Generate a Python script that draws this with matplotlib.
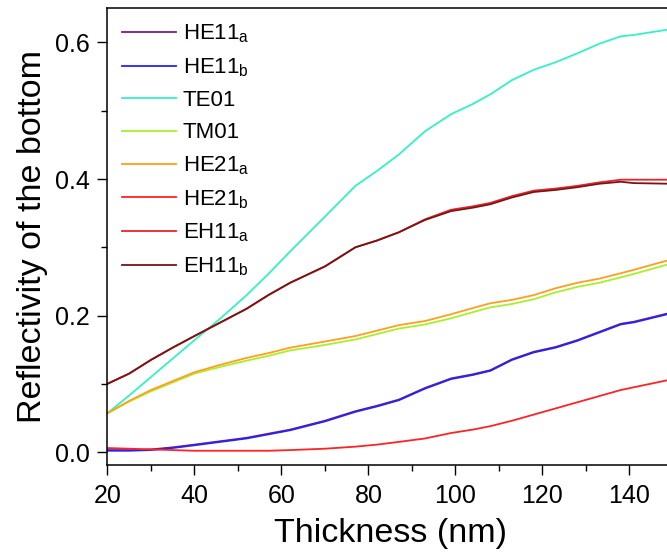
import matplotlib as mpl

mpl.use('Agg')
import matplotlib.pyplot as plt
from matplotlib.ticker import MultipleLocator

plt.rcParams['font.family'] = ['Liberation Sans', 'DejaVu Sans']
plt.rcParams['mathtext.fontset'] = 'custom'
plt.rcParams['mathtext.rm'] = 'Liberation Sans'

# thickness grid (nm) and reflectivity of each mode
thickness = [20, 25, 30, 35, 40, 46, 52, 57, 62, 70, 77, 82, 87, 93, 99,
             104, 108, 113, 118, 123, 128, 133, 138, 141, 150]

he11a = [0.003, 0.003, 0.004, 0.007, 0.011, 0.016, 0.021, 0.027, 0.033, 0.046,
         0.060, 0.068, 0.077, 0.094, 0.108, 0.114, 0.120, 0.136, 0.147, 0.154,
         0.164, 0.176, 0.188, 0.191, 0.205]
he11b = [0.002, 0.002, 0.003, 0.006, 0.010, 0.015, 0.020, 0.026, 0.032, 0.045,
         0.059, 0.067, 0.076, 0.093, 0.107, 0.113, 0.119, 0.135, 0.146, 0.153,
         0.163, 0.175, 0.187, 0.190, 0.204]
te01 = [0.057, 0.083, 0.110, 0.137, 0.164, 0.196, 0.230, 0.261, 0.294, 0.345,
        0.390, 0.412, 0.436, 0.470, 0.495, 0.510, 0.524, 0.545, 0.560, 0.571,
        0.584, 0.598, 0.609, 0.611, 0.620]
tm01 = [0.057, 0.074, 0.089, 0.102, 0.115, 0.125, 0.134, 0.141, 0.149, 0.157,
        0.165, 0.173, 0.181, 0.187, 0.196, 0.205, 0.212, 0.217, 0.224, 0.234,
        0.242, 0.248, 0.256, 0.261, 0.277]
he21a = [0.057, 0.075, 0.091, 0.104, 0.117, 0.128, 0.138, 0.145, 0.153, 0.162,
         0.170, 0.178, 0.186, 0.192, 0.202, 0.211, 0.218, 0.223, 0.230, 0.240,
         0.248, 0.254, 0.262, 0.267, 0.283]
he21b = [0.006, 0.005, 0.004, 0.003, 0.002, 0.002, 0.002, 0.002, 0.003, 0.005,
         0.008, 0.011, 0.015, 0.020, 0.028, 0.033, 0.038, 0.046, 0.055, 0.064,
         0.073, 0.082, 0.091, 0.095, 0.107]
eh11a = [0.100, 0.115, 0.135, 0.153, 0.170, 0.190, 0.210, 0.230, 0.248, 0.272,
         0.300, 0.310, 0.322, 0.341, 0.355, 0.360, 0.365, 0.375, 0.383, 0.386,
         0.390, 0.395, 0.399, 0.399, 0.399]
eh11b = [0.100, 0.115, 0.135, 0.153, 0.170, 0.190, 0.210, 0.230, 0.248, 0.272,
         0.300, 0.310, 0.322, 0.340, 0.353, 0.358, 0.363, 0.373, 0.381, 0.384,
         0.388, 0.393, 0.396, 0.394, 0.393]

series = [
    (he11a, r'HE11$_\mathregular{a}$', '#7f1a80'),
    (he11b, r'HE11$_\mathregular{b}$', '#2323f5'),
    (te01, 'TE01', '#33f2c4'),
    (tm01, 'TM01', '#a8f02a'),
    (he21a, r'HE21$_\mathregular{a}$', '#ff9f1f'),
    (he21b, r'HE21$_\mathregular{b}$', '#ff2424'),
    (eh11a, r'EH11$_\mathregular{a}$', '#e8232b'),
    (eh11b, r'EH11$_\mathregular{b}$', '#761515'),
]

fig = plt.figure(figsize=(6.67, 5.55), dpi=100)
ax = fig.add_axes([0.161, 0.162, 0.848, 0.823])

for vals, lab, col in series:
    ax.plot(thickness, vals, color=col, lw=1.3, label=lab)

ax.set_xlim(20, 150)
ax.set_ylim(-0.019, 0.65)
ax.xaxis.set_major_locator(MultipleLocator(20))
ax.xaxis.set_minor_locator(MultipleLocator(10))
ax.yaxis.set_major_locator(MultipleLocator(0.2))
ax.yaxis.set_minor_locator(MultipleLocator(0.1))
ax.yaxis.set_major_formatter(mpl.ticker.FormatStrFormatter('%.1f'))
ax.tick_params(which='major', direction='out', length=7.5, width=1, labelsize=18)
ax.tick_params(which='minor', direction='out', length=4.5, width=1)
ax.tick_params(axis='x', which='major', pad=6)
ax.tick_params(axis='y', which='major', pad=5)
for sp in ax.spines.values():
    sp.set_linewidth(1.1)

ax.set_xlabel('Thickness (nm)', fontsize=24.5, labelpad=7)
ax.set_ylabel('Reflectivity of the bottom', fontsize=24.5, labelpad=5)

ax.legend(loc='upper left', frameon=False, fontsize=16, handlelength=2.45,
          handletextpad=0.3, labelspacing=0.5, borderaxespad=0.25,
          bbox_to_anchor=(0.0, 1.0))

plt.savefig('out.png', dpi=100)
